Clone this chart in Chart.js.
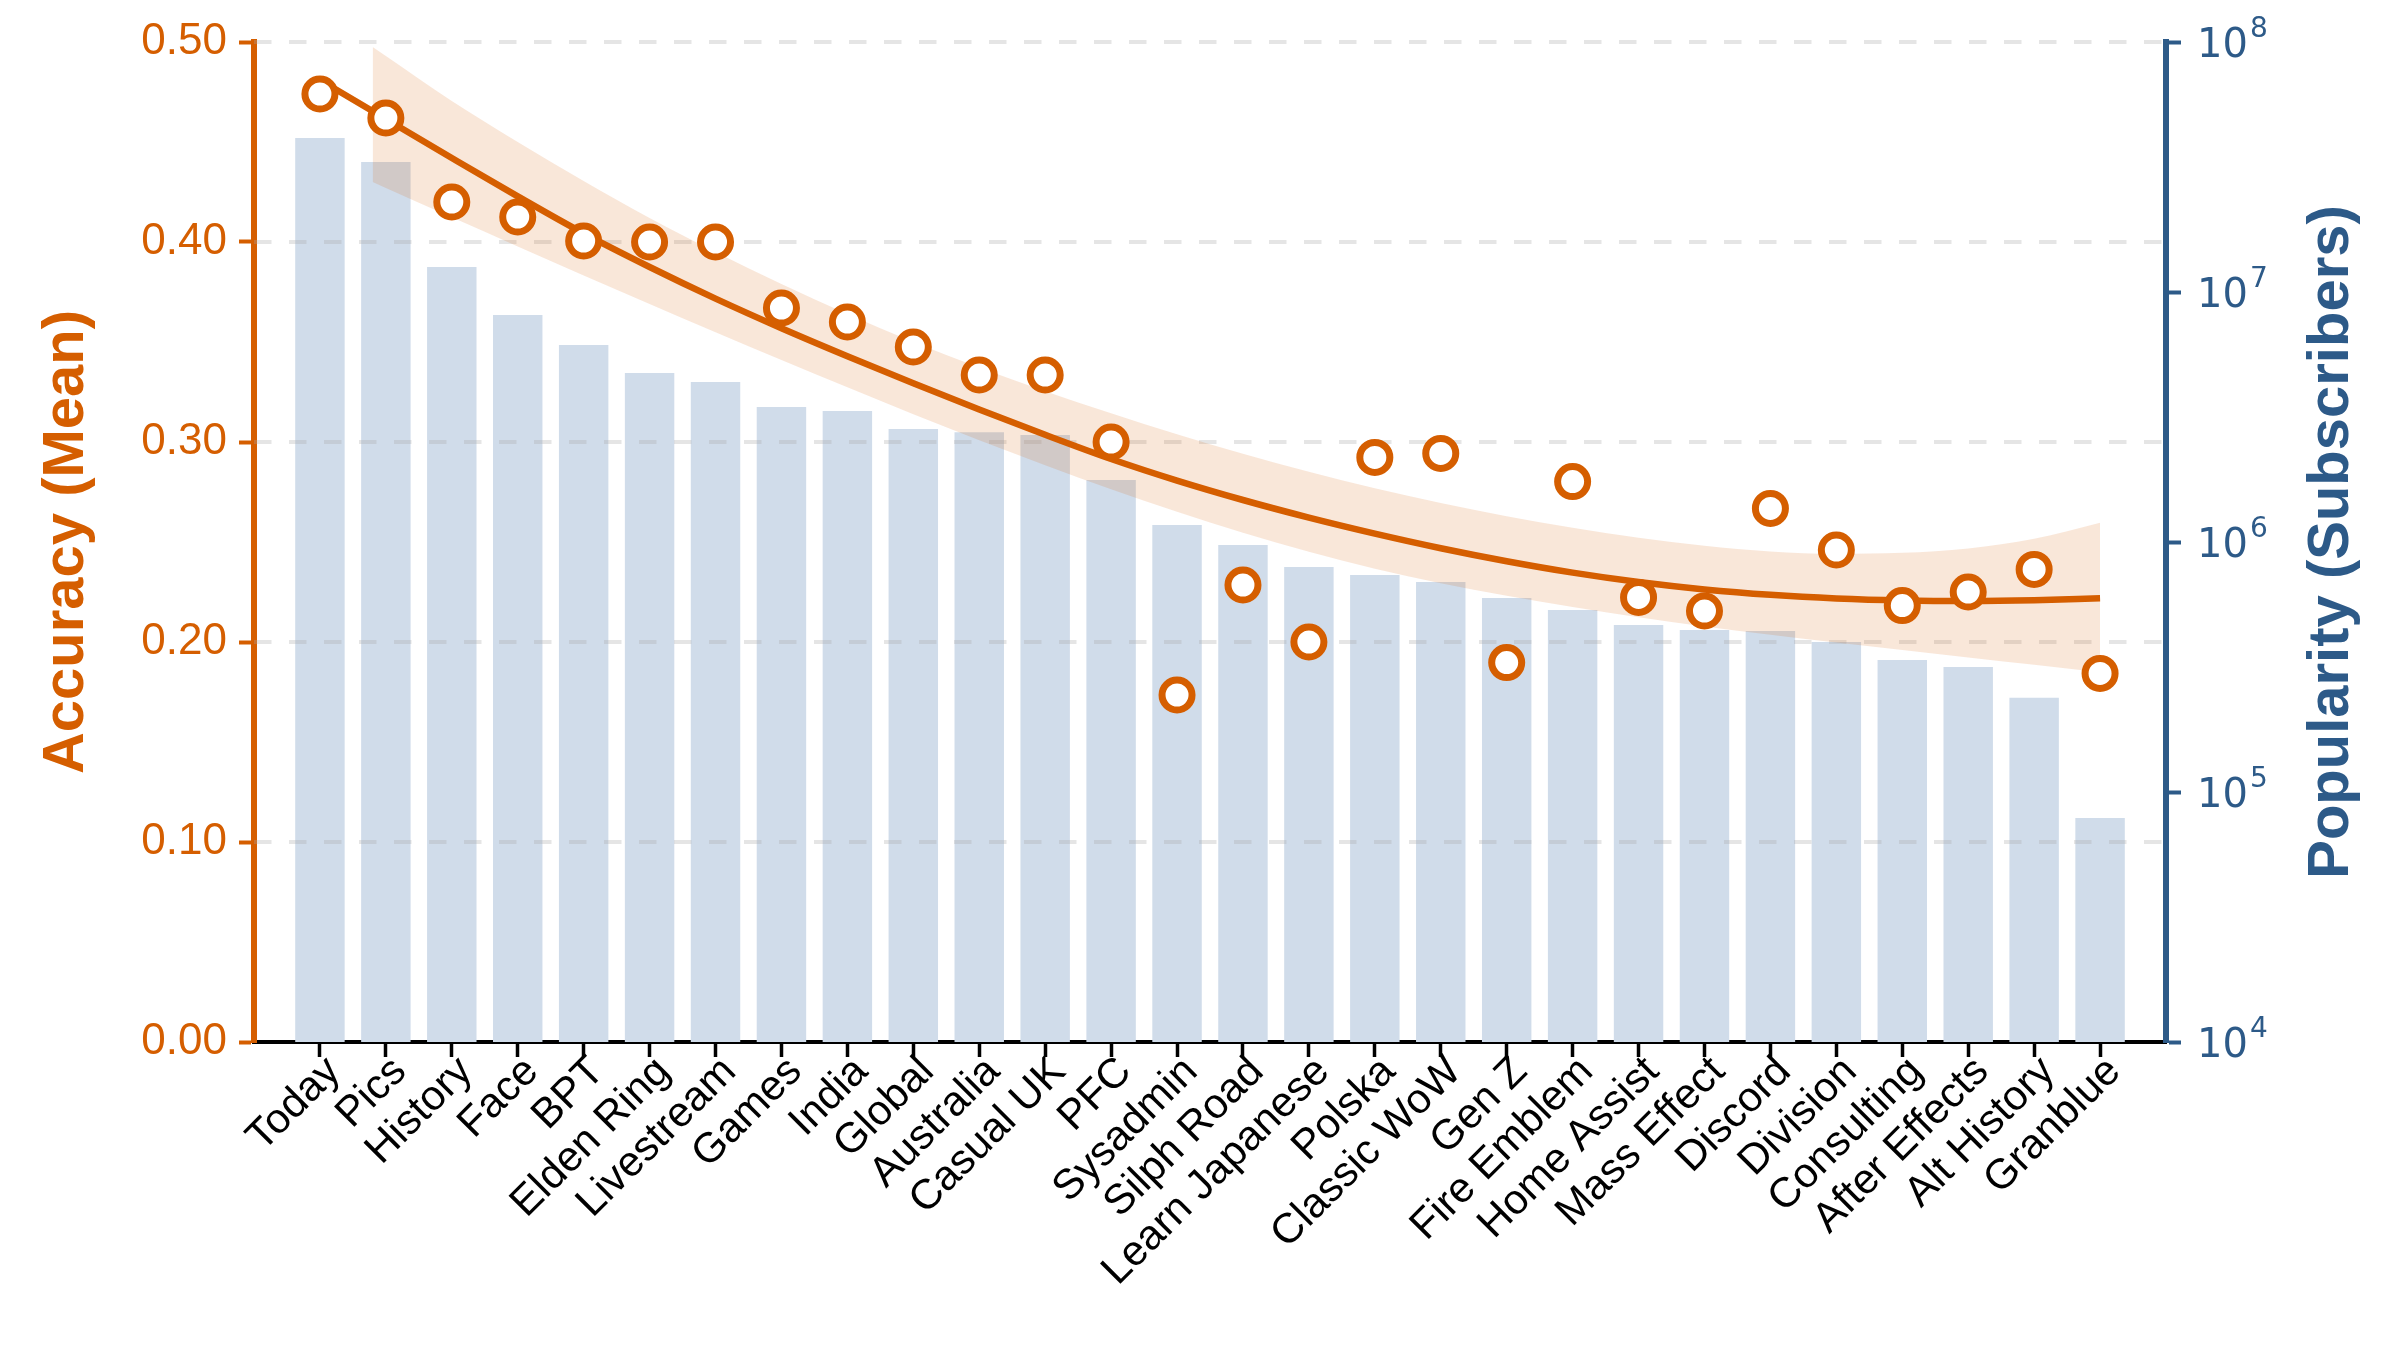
<!DOCTYPE html>
<html>
<head>
<meta charset="utf-8">
<script src="https://cdn.jsdelivr.net/npm/chart.js@4.4.1/dist/chart.umd.min.js"></script>
<style>
  html, body { margin: 0; padding: 0; background: #fff; }
  #wrap { width: 2400px; height: 1350px; }
</style>
</head>
<body>
<div id="wrap"><canvas id="myChart"></canvas></div>
<script>
// data
const subreddits = ['Today', 'Pics', 'History', 'Face', 'BPT', 'Elden Ring', 'Livestream', 'Games',
  'India', 'Global', 'Australia', 'Casual UK', 'PFC', 'Sysadmin', 'Silph Road', 'Learn Japanese',
  'Polska', 'Classic WoW', 'Gen Z', 'Fire Emblem', 'Home Assist', 'Mass Effect', 'Discord',
  'Division', 'Consulting', 'After Effects', 'Alt History', 'Granblue'];

const subscribers = [41300000, 33100000, 12600000, 8090000, 6140000, 4740000, 4370000, 3470000,
  3340000, 2830000, 2750000, 2680000, 1770000, 1170000, 973000, 794000,
  738000, 692000, 597000, 535000, 466000, 445000, 441000,
  398000, 337000, 316000, 238000, 78700];

const accuracy = [0.474, 0.462, 0.420, 0.4125, 0.4005, 0.400, 0.400, 0.367,
  0.360, 0.3475, 0.3335, 0.3335, 0.300, 0.1735, 0.2285, 0.200,
  0.2923, 0.2943, 0.1897, 0.2802, 0.2223, 0.2155, 0.2668,
  0.246, 0.2182, 0.225, 0.2363, 0.1843];

const fitLine = [0.481, 0.4615, 0.442, 0.4228, 0.4043, 0.3875, 0.3717, 0.3569,
  0.3429, 0.3294, 0.3163, 0.3036, 0.2915, 0.2807, 0.271, 0.2622,
  0.2542, 0.2469, 0.2404, 0.2347, 0.230, 0.2263, 0.2236,
  0.2218, 0.2208, 0.2205, 0.2209, 0.2219];

const bandX = [0.8, 1, 2, 3, 4, 5, 6, 7, 8, 9, 10, 11, 12, 13, 14, 15, 16, 17, 18, 19, 20,
  21, 22, 23, 24, 25, 26, 27];
const bandUpper = [0.4975, 0.493, 0.4705, 0.450, 0.4305, 0.412, 0.395, 0.379, 0.364, 0.350,
  0.3372, 0.3254, 0.3144, 0.3039, 0.2941, 0.2851, 0.2769, 0.2695, 0.2629, 0.2571, 0.2521,
  0.2481, 0.2453, 0.2441, 0.2446, 0.2468, 0.2516, 0.2596];
const bandLower = [0.430, 0.427, 0.4124, 0.3978, 0.3833, 0.369, 0.3549, 0.341, 0.3274, 0.3139,
  0.3009, 0.2884, 0.2764, 0.2651, 0.2546, 0.2451, 0.2366, 0.2294, 0.2231, 0.2175, 0.2124,
  0.2078, 0.2036, 0.1997, 0.196, 0.1923, 0.1886, 0.1849];

const accTicks = [0, 0.1, 0.2, 0.3, 0.4, 0.5];
const popExponents = [4, 5, 6, 7, 8];

const ORANGE = '#D55E00';
const BLUE = '#2D5A88';
const FONT = '"Liberation Sans", Arial, Helvetica, sans-serif';

const guides = {
  id: 'guides',
  afterDatasetDraw(chart, args) {
    // dashed grid sits on top of the bars, under the band and the fit
    if (args.index !== 0) return;
    const { ctx, chartArea, scales } = chart;
    ctx.save();
    ctx.strokeStyle = 'rgba(170,170,170,0.3)';
    ctx.lineWidth = 4;
    ctx.setLineDash([17.5, 17.5]);
    accTicks.forEach(v => {
      if (v <= 0) return;
      const y = scales.y.getPixelForValue(v);
      ctx.beginPath();
      ctx.moveTo(chartArea.left, y);
      ctx.lineTo(chartArea.right, y);
      ctx.stroke();
    });
    ctx.restore();
  },
  afterDraw(chart) {
    const { ctx, chartArea, scales } = chart;
    const x = scales.x, y1 = scales.y1;
    ctx.save();

    // category labels, rotated 45 deg
    ctx.fillStyle = '#000';
    ctx.font = '42px ' + FONT;
    ctx.textAlign = 'right';
    ctx.textBaseline = 'middle';
    subreddits.forEach((name, i) => {
      const px = x.getPixelForValue(i);
      ctx.save();
      ctx.translate(px + 14, chartArea.bottom + 23);
      ctx.rotate(-Math.PI / 4);
      ctx.fillText(name, 0, 0);
      ctx.restore();
    });

    // log axis labels 10^n
    ctx.fillStyle = BLUE;
    ctx.textAlign = 'left';
    popExponents.forEach(e => {
      const py = y1.getPixelForValue(Math.pow(10, e));
      const lx = chartArea.right + 31;
      ctx.font = '40px "DejaVu Sans", sans-serif';
      ctx.textBaseline = 'middle';
      ctx.fillText('10', lx, py + 5);
      const w = ctx.measureText('10').width;
      ctx.font = '28px "DejaVu Sans", sans-serif';
      ctx.textBaseline = 'alphabetic';
      ctx.fillText(String(e), lx + w + 2, py - 5);
    });

    // axis titles
    const midY = (chartArea.top + chartArea.bottom) / 2;
    ctx.textAlign = 'center';
    ctx.textBaseline = 'middle';
    ctx.font = 'bold 58px ' + FONT;
    ctx.fillStyle = ORANGE;
    ctx.save();
    ctx.translate(67, midY);
    ctx.rotate(-Math.PI / 2);
    ctx.fillText('Accuracy (Mean)', 0, 0);
    ctx.restore();
    ctx.fillStyle = BLUE;
    ctx.save();
    ctx.translate(2332, midY);
    ctx.rotate(-Math.PI / 2);
    ctx.fillText('Popularity (Subscribers)', 0, 0);
    ctx.restore();

    ctx.restore();
  }
};

const chart = new Chart(document.getElementById('myChart'), {
  data: {
    datasets: [
      {
        type: 'bar',
        label: 'Subscribers',
        data: subscribers.map((v, i) => ({ x: i, y: v })),
        yAxisID: 'y1',
        backgroundColor: 'rgb(208,220,234)',
        borderWidth: 0,
        barPercentage: 0.75,
        categoryPercentage: 1,
        order: 5
      },
      {
        type: 'line',
        label: 'band low',
        data: bandX.map((v, i) => ({ x: v, y: bandLower[i] })),
        yAxisID: 'y',
        borderWidth: 0,
        pointRadius: 0,
        cubicInterpolationMode: 'monotone',
        fill: false,
        order: 4
      },
      {
        type: 'line',
        label: 'band high',
        data: bandX.map((v, i) => ({ x: v, y: bandUpper[i] })),
        yAxisID: 'y',
        borderWidth: 0,
        pointRadius: 0,
        cubicInterpolationMode: 'monotone',
        backgroundColor: 'rgba(213,94,0,0.15)',
        fill: 1,
        order: 3
      },
      {
        type: 'line',
        label: 'Fit',
        data: fitLine.map((v, i) => ({ x: i, y: v })),
        yAxisID: 'y',
        borderColor: ORANGE,
        borderWidth: 6.5,
        pointRadius: 0,
        cubicInterpolationMode: 'monotone',
        fill: false,
        order: 2
      },
      {
        type: 'line',
        label: 'Accuracy',
        data: accuracy.map((v, i) => ({ x: i, y: v })),
        yAxisID: 'y',
        showLine: false,
        pointRadius: 15,
        pointBorderWidth: 7,
        pointBackgroundColor: '#fff',
        pointBorderColor: ORANGE,
        order: 1
      }
    ]
  },
  options: {
    responsive: true,
    maintainAspectRatio: false,
    animation: false,
    layout: { padding: { top: 42, left: 0, right: 0, bottom: 0 } },
    plugins: {
      legend: { display: false },
      tooltip: { enabled: false }
    },
    scales: {
      x: {
        type: 'linear',
        min: -1,
        max: 28,
        offset: false,
        afterBuildTicks: s => { s.ticks = subreddits.map((_, i) => ({ value: i })); },
        afterFit: s => { s.height = 308; },
        ticks: { display: false },
        grid: { offset: false, drawOnChartArea: false, drawTicks: true, tickLength: 15, tickWidth: 3.5, tickColor: '#000' },
        border: { color: '#000', width: 4 }
      },
      y: {
        type: 'linear',
        position: 'left',
        min: 0,
        max: 0.5,
        afterBuildTicks: s => { s.ticks = accTicks.map(v => ({ value: v })); },
        afterFit: s => { s.width = 254; },
        ticks: {
          color: ORANGE,
          padding: 12,
          font: { family: FONT, size: 44 },
          callback: v => v.toFixed(2)
        },
        grid: { drawOnChartArea: false, drawTicks: true, tickLength: 15, tickWidth: 4, tickColor: ORANGE },
        border: { color: ORANGE, width: 6 }
      },
      y1: {
        type: 'logarithmic',
        position: 'right',
        min: 1e4,
        max: 1e8,
        afterBuildTicks: s => { s.ticks = popExponents.map(e => ({ value: Math.pow(10, e) })); },
        afterFit: s => { s.width = 234; },
        ticks: { display: false },
        grid: { drawOnChartArea: false, drawTicks: true, tickLength: 15, tickWidth: 4, tickColor: BLUE },
        border: { color: BLUE, width: 6 }
      }
    }
  },
  plugins: [guides]
});
</script>
</body>
</html>
